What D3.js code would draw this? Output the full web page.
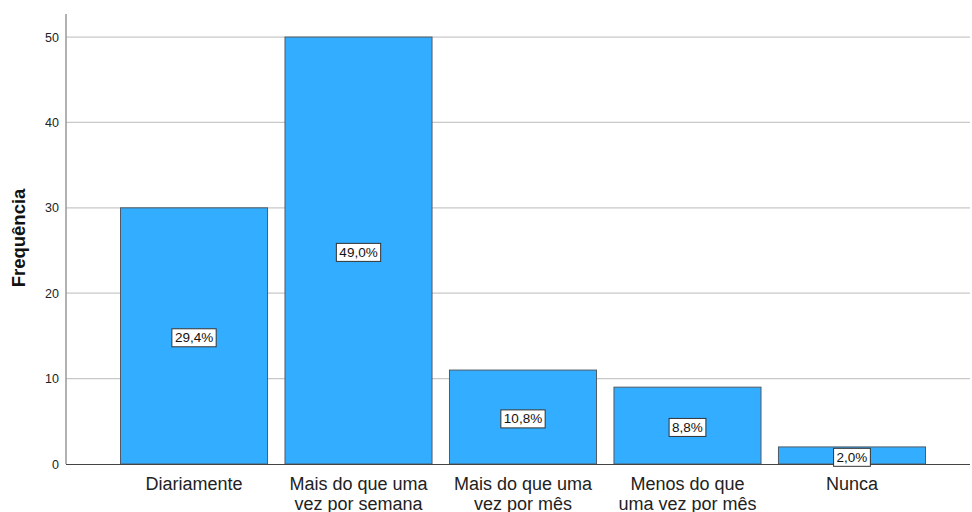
<!DOCTYPE html>
<html><head><meta charset="utf-8">
<script src="https://cdn.jsdelivr.net/npm/d3@7"></script>
<style>body{margin:0;background:#fff}svg{display:block}</style>
</head><body>
<svg id="c" width="972" height="512"></svg>
<script>
const categories = [["Diariamente"],["Mais do que uma","vez por semana"],["Mais do que uma","vez por mês"],["Menos do que","uma vez por mês"],["Nunca"]];
const values = [30, 50, 11, 9, 2];
const percents = ["29,4%","49,0%","10,8%","8,8%","2,0%"];
const yTicks = [0, 10, 20, 30, 40, 50];

const svg = d3.select("#c");
const font = "'Liberation Sans', Arial, sans-serif";
const x = d3.scaleBand().domain(d3.range(values.length)).range([120, 926]).paddingInner(0.1).paddingOuter(0);
const y = d3.scaleLinear().domain([0, 52.7]).range([464, 14]);

// grid
svg.append("g").selectAll("line").data(yTicks.filter(d=>d>0)).join("line")
  .attr("x1", 66).attr("x2", 970).attr("y1", d=>y(d)).attr("y2", d=>y(d))
  .attr("stroke", "#c8c8c8").attr("stroke-width", 1.3);

// bars
svg.append("g").selectAll("rect").data(values).join("rect")
  .attr("x", (d,i)=>x(i)+0.5).attr("y", d=>y(d)).attr("width", x.bandwidth()-1).attr("height", d=>y(0)-y(d))
  .attr("fill", "#33adff").attr("stroke", "#505a64").attr("stroke-width", 1);

// y axis
const ya = d3.axisLeft(y).tickValues(yTicks).tickSize(0).tickPadding(7);
const gy = svg.append("g").attr("transform","translate(66,0)").call(ya);
gy.select(".domain").remove();
gy.selectAll("text").attr("font-family", font).attr("font-size", 12.5).attr("fill", "#222");
svg.append("line").attr("x1",66).attr("x2",66).attr("y1",14).attr("y2",464).attr("stroke","#999").attr("stroke-width",1.5);
svg.append("line").attr("x1",66).attr("x2",970).attr("y1",464.5).attr("y2",464.5).attr("stroke","#444").attr("stroke-width",1.2);

// axis title
svg.append("text").attr("transform","translate(25,238) rotate(-90)").attr("text-anchor","middle")
  .attr("font-family", font).attr("font-size", 18.5).attr("font-weight","bold").attr("fill","#111").text("Frequência");

// category labels
const cl = svg.append("g").selectAll("text").data(categories).join("text")
  .attr("x",(d,i)=>x(i)+x.bandwidth()/2).attr("y",489.5).attr("text-anchor","middle")
  .attr("font-family", font).attr("font-size", 18).attr("fill","#222");
cl.selectAll("tspan").data(d=>d).join("tspan").attr("x", function(){return this.parentNode.getAttribute("x");})
  .attr("dy",(d,i)=>i===0?0:20).text(d=>d);

// percent labels
const pl = svg.append("g").selectAll("g").data(values).join("g")
  .attr("transform",(d,i)=>`translate(${x(i)+x.bandwidth()/2},${y(d/2)+1.5})`);
pl.each(function(d,i){
  const g = d3.select(this);
  const t = g.append("text").attr("text-anchor","middle").attr("dy","0.36em")
    .attr("font-family", font).attr("font-size", 13.5).attr("fill","#111").text(percents[i]);
  const bb = t.node().getBBox();
  g.insert("rect","text").attr("x", bb.x-3).attr("y", bb.y-1.5).attr("width", bb.width+6).attr("height", bb.height+3)
    .attr("fill","#fff").attr("stroke","#333").attr("stroke-width",1);
});
</script>
</body></html>
